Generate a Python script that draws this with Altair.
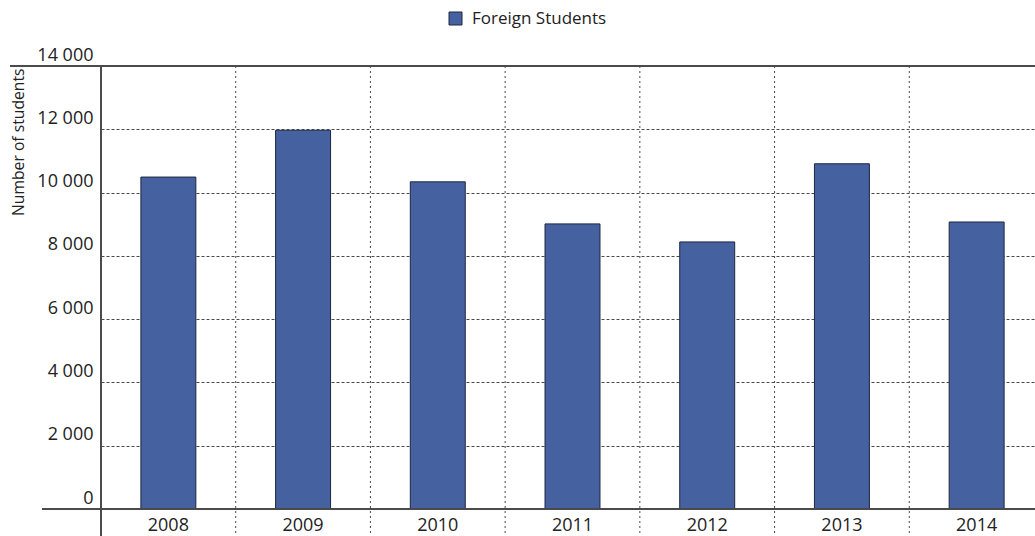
import altair as alt
import pandas as pd

years = ["2008", "2009", "2010", "2011", "2012", "2013", "2014"]
students = [10490, 11970, 10340, 9010, 8440, 10910, 9070]
series_name = "Foreign Students"
y_ticks = [0, 2000, 4000, 6000, 8000, 10000, 12000, 14000]
y_title = "Number of students"

df = pd.DataFrame({"year": years, "students": students, "series": [series_name] * len(years)})
sep_df = pd.DataFrame({"year": years[1:]})

W, H = 934, 443
FULL = 943
STEP = FULL / len(years)
PAD_IN = 0.592
FONT = "Open Sans"
LINE = "#4a4a4a"

xscale = alt.Scale(domain=years, range=[0, FULL], paddingInner=PAD_IN, paddingOuter=PAD_IN / 2)
yscale = alt.Scale(domain=[0, 14000], nice=False, zero=True)
xaxis = alt.Axis(title=None, domain=False, ticks=False, grid=False, labelAngle=0,
                 labelPadding=7, labelFontSize=18, labelFont=FONT, labelColor="#222")

bars = alt.Chart(df).mark_bar(stroke="#1e2640", strokeWidth=1).encode(
    x=alt.X("year:N", scale=xscale, sort=years, axis=xaxis),
    y=alt.Y("students:Q", scale=yscale,
            axis=alt.Axis(values=y_ticks,
                          labelExpr="replace(format(datum.value, ','), ',', ' ')",
                          grid=True, gridDash=[3, 2], gridColor=LINE, gridWidth=1,
                          domain=False, ticks=False, labelPadding=8,
                          labelBaseline="alphabetic", labelOffset=-6,
                          labelFontSize=18, labelFont=FONT, labelColor="#222",
                          title=y_title, titleX=-83, titleY=2, titleAngle=270,
                          titleAlign="right", titleBaseline="middle",
                          titleFontSize=15.7, titleFont=FONT, titleFontWeight="normal",
                          titleColor="#222")),
    color=alt.Color("series:N", scale=alt.Scale(range=["#4561a0"]),
                    legend=alt.Legend(title=None, orient="none", legendX=346, legendY=-56,
                                      symbolType="square", symbolSize=169,
                                      symbolStrokeColor="#1e2640", symbolStrokeWidth=1,
                                      labelFontSize=17, labelFont=FONT, labelColor="#222",
                                      labelOffset=8, padding=0)),
)

seps = alt.Chart(sep_df).mark_rule(color=LINE, strokeDash=[2, 3], strokeWidth=1,
                                   xOffset=-PAD_IN * STEP / 2).encode(
    x=alt.X("year:N", scale=xscale, sort=years, bandPosition=0, axis=xaxis),
    y=alt.value(0),
    y2=alt.value(H + 27),
)

top_line = alt.Chart(df).mark_rule(color=LINE, strokeWidth=1).encode(
    x=alt.value(-91), x2=alt.value(W), y=alt.value(0))
base_line = alt.Chart(df).mark_rule(color=LINE, strokeWidth=1).encode(
    x=alt.value(-59), x2=alt.value(W), y=alt.value(H))
y_line = alt.Chart(df).mark_rule(color=LINE, strokeWidth=1).encode(
    x=alt.value(0), y=alt.value(0), y2=alt.value(H + 27))

chart = alt.layer(seps, bars, top_line, base_line, y_line).properties(
    width=W, height=H,
    autosize=alt.AutoSizeParams(type="none"),
    padding={"left": 101, "top": 66, "right": 0, "bottom": 27},
    background="white",
).configure_view(stroke=None)

chart.save("out.html", embed_options={"renderer": "svg", "actions": False})
